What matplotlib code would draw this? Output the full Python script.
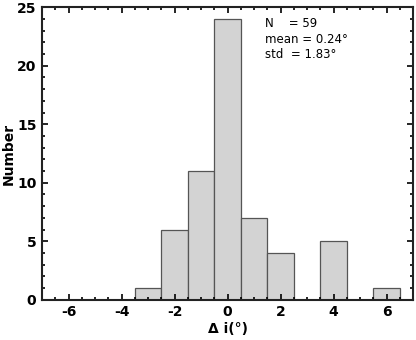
import numpy as np
import matplotlib.pyplot as plt
from matplotlib.ticker import MultipleLocator

plt.rcParams["axes.unicode_minus"] = False

# histogram bins and counts
bin_edges = [-3.5, -2.5, -1.5, -0.5, 0.5, 1.5, 2.5, 3.5, 4.5, 5.5, 6.5]
counts = [1, 6, 11, 24, 7, 4, 0, 5, 0, 1]
stats_text = "N    = 59\nmean = 0.24°\nstd  = 1.83°"

fig = plt.figure(figsize=(4.16, 3.4), dpi=100)
ax = fig.add_axes([0.101, 0.118, 0.892, 0.861])

ax.hist(bin_edges[:-1], bins=bin_edges, weights=counts,
        color="#d3d3d3", edgecolor="#555555", linewidth=0.9)

ax.set_xlim(-7, 7)
ax.set_ylim(0, 25)
ax.xaxis.set_major_locator(MultipleLocator(2))
ax.xaxis.set_minor_locator(MultipleLocator(0.5))
ax.yaxis.set_major_locator(MultipleLocator(5))
ax.yaxis.set_minor_locator(MultipleLocator(1))
ax.tick_params(which="both", direction="in", top=True, right=True, width=1.2)
ax.tick_params(which="major", length=4, labelsize=10, pad=4)
ax.tick_params(which="minor", length=2)
for lbl in ax.get_xticklabels() + ax.get_yticklabels():
    lbl.set_fontweight("bold")
for s in ax.spines.values():
    s.set_linewidth(1.5)
    s.set_color("#222222")

ax.set_xlabel("Δ i(°)", fontsize=10, fontweight="bold", labelpad=2)
ax.set_ylabel("Number", fontsize=10, fontweight="bold", labelpad=1)

ax.text(0.6, 0.965, stats_text, transform=ax.transAxes, fontsize=8.5,
        va="top", ha="left", linespacing=1.25)

fig.savefig("out.png", dpi=100)
